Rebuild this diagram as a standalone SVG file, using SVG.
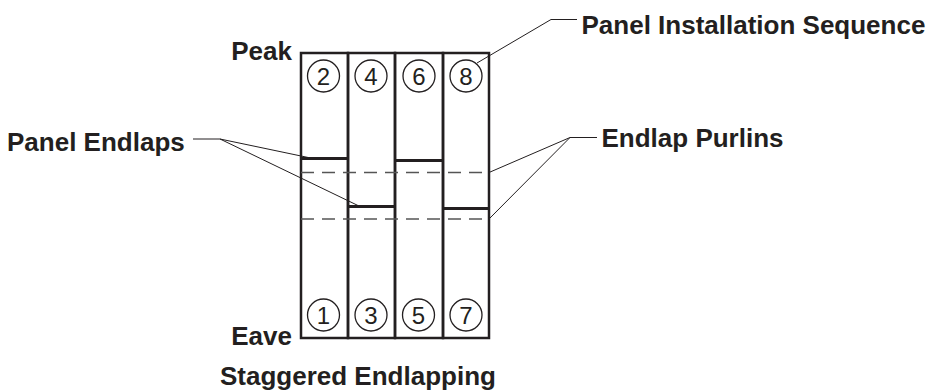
<svg xmlns="http://www.w3.org/2000/svg" width="934" height="391" viewBox="0 0 934 391">
<style>
.lbl{font-family:"Liberation Sans",Arial,sans-serif;font-weight:bold;font-size:26px;fill:#231f20}
.num{font-family:"Liberation Sans",Arial,sans-serif;font-size:24px;fill:#231f20;text-anchor:middle}
.pan{fill:none;stroke:#231f20;stroke-width:2.5}
.lap{stroke:#231f20;stroke-width:3}
.dash{stroke:#555;stroke-width:1.6;stroke-dasharray:13 8;fill:none}
.lead{stroke:#231f20;stroke-width:1;fill:none}
.cir{fill:none;stroke:#231f20;stroke-width:1.3}
</style>
<rect width="934" height="391" fill="#fff"/>
<g id="panels">
<g id="panel1"><rect class="pan" x="301" y="53" width="47" height="285"/><circle class="cir" cx="323.5" cy="315" r="16"/><text class="num" x="323.5" y="323.5">1</text></g>
<g id="panel2"><rect class="pan" x="348" y="53" width="47" height="285"/><circle class="cir" cx="323.5" cy="76" r="16"/><text class="num" x="323.5" y="84.5">2</text></g>
<g id="panel3"><rect class="pan" x="395" y="53" width="48" height="285"/><circle class="cir" cx="371" cy="315" r="16"/><text class="num" x="371" y="323.5">3</text></g>
<g id="panel4"><rect class="pan" x="443" y="53" width="46" height="285"/><circle class="cir" cx="371" cy="76" r="16"/><text class="num" x="371" y="84.5">4</text></g>
<g id="seq5"><circle class="cir" cx="418.5" cy="315" r="16"/><text class="num" x="418.5" y="323.5">5</text></g>
<g id="seq6"><circle class="cir" cx="419" cy="76" r="16"/><text class="num" x="419" y="84.5">6</text></g>
<g id="seq7"><circle class="cir" cx="466" cy="315" r="16"/><text class="num" x="466" y="323.5">7</text></g>
<g id="seq8"><circle class="cir" cx="466" cy="76" r="16"/><text class="num" x="466" y="84.5">8</text></g>
</g>
<g id="endlaps">
<line class="lap" x1="301" y1="158.5" x2="348" y2="158.5"/>
<line class="lap" x1="348" y1="206.5" x2="395" y2="206.5"/>
<line class="lap" x1="395" y1="160.5" x2="443" y2="160.5"/>
<line class="lap" x1="443" y1="208.5" x2="489" y2="208.5"/>
</g>
<g id="purlins">
<line class="dash" x1="301" y1="172.5" x2="489" y2="172.5"/>
<line class="dash" x1="301" y1="219" x2="489" y2="219"/>
</g>
<g id="connectors">
<polyline class="lead" points="193,139 220,139 313,158.5"/>
<line class="lead" x1="220" y1="139" x2="360" y2="206.5"/>
<polyline class="lead" points="597,137.5 570,137.5 489,172.5"/>
<line class="lead" x1="570" y1="137.5" x2="489" y2="219"/>
<polyline class="lead" points="577,19.5 551,19.5 477,63"/>
</g>
<g id="labels">
<text class="lbl" x="292" y="59.5" text-anchor="end">Peak</text>
<text class="lbl" x="292" y="345" text-anchor="end">Eave</text>
<text class="lbl" x="7" y="150.5">Panel Endlaps</text>
<text class="lbl" x="601.5" y="147">Endlap Purlins</text>
<text class="lbl" x="581.5" y="33.5">Panel Installation Sequence</text>
<text class="lbl" x="220" y="385">Staggered Endlapping</text>
</g>
</svg>
